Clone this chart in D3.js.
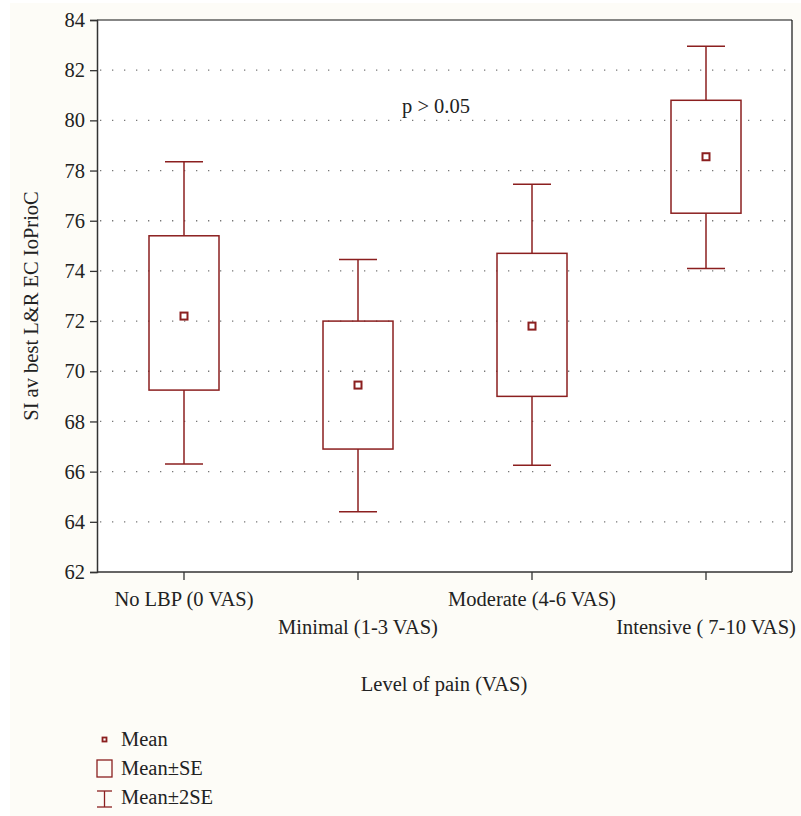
<!DOCTYPE html>
<html><head><meta charset="utf-8">
<script src="https://cdn.jsdelivr.net/npm/d3@7"></script>
<style>body{margin:0;background:#fff}</style>
</head><body>
<script>
const categories = ["No LBP (0 VAS)", "Minimal (1-3 VAS)", "Moderate (4-6 VAS)", "Intensive ( 7-10 VAS)"];
const means  = [72.2, 69.45, 71.8, 78.55];
const seLow  = [69.25, 66.9, 69.0, 76.3];
const seHigh = [75.4, 72.0, 74.7, 80.8];
const se2Low = [66.3, 64.4, 66.25, 74.1];
const se2High= [78.35, 74.45, 77.45, 82.95];
const yTicks = [62,64,66,68,70,72,74,76,78,80,82,84];

const W=801,H=816;
const L=97,R=792,T=20,B=572;
const col="#8b1f1f";
const fs=20.5;
const font="'Liberation Serif', 'DejaVu Serif', serif";
const svg=d3.select("body").append("svg").attr("width",W).attr("height",H);
svg.append("rect").attr("x",10).attr("y",3).attr("width",W-10).attr("height",H-3).attr("fill","#fdfcf7");
svg.append("rect").attr("x",L).attr("y",T).attr("width",R-L).attr("height",B-T).attr("fill","#fff");

const x=d3.scaleBand().domain(categories).range([L,L+4*174]);
const y=d3.scaleLinear().domain([62,84]).range([B,T]);

// grid
svg.append("g").selectAll("line").data(yTicks.filter(d=>d>62&&d<84)).join("line")
 .attr("x1",L+3).attr("x2",R).attr("y1",d=>y(d)).attr("y2",d=>y(d))
 .attr("stroke","#777").attr("stroke-width",1.3).attr("stroke-dasharray","1.3,10.7");

// frame
svg.append("line").attr("x1",L).attr("x2",R).attr("y1",T).attr("y2",T).attr("stroke","#111").attr("stroke-width",1.2);
svg.append("line").attr("x1",R).attr("x2",R).attr("y1",T).attr("y2",B).attr("stroke","#111").attr("stroke-width",1.2);

const ya=svg.append("g").attr("transform",`translate(${L},0)`).call(d3.axisLeft(y).tickValues(yTicks).tickSize(7).tickPadding(5).tickFormat(d3.format("d")));
ya.select(".domain").attr("stroke","#333").attr("stroke-width",1.5);
ya.selectAll("line").attr("stroke","#333").attr("stroke-width",1.3);
ya.selectAll("text").attr("font-family",font).attr("font-size",fs).attr("fill","#222");

const xa=svg.append("g").attr("transform",`translate(0,${B})`).call(d3.axisBottom(x).tickSize(8).tickFormat(""));
xa.select(".domain").attr("stroke","#333").attr("stroke-width",1.5).attr("d",`M${L},0H${R}`);
xa.selectAll("line").attr("stroke","#333").attr("stroke-width",1.3);

const cx=d=>x(d)+x.bandwidth()/2;
svg.append("g").selectAll("text").data(categories).join("text")
 .attr("x",d=>cx(d)).attr("y",(d,i)=>i%2===0?606:634)
 .attr("text-anchor","middle").attr("font-family",font).attr("font-size",fs).attr("fill","#222").text(d=>d);

const g=svg.append("g");
categories.forEach((c,i)=>{
  const xc=cx(c);
  g.append("line").attr("x1",xc).attr("x2",xc).attr("y1",y(seHigh[i])).attr("y2",y(se2High[i])).attr("stroke",col).attr("stroke-width",1.5);
  g.append("line").attr("x1",xc).attr("x2",xc).attr("y1",y(seLow[i])).attr("y2",y(se2Low[i])).attr("stroke",col).attr("stroke-width",1.5);
  g.append("line").attr("x1",xc-19).attr("x2",xc+19).attr("y1",y(se2High[i])).attr("y2",y(se2High[i])).attr("stroke",col).attr("stroke-width",1.5);
  g.append("line").attr("x1",xc-19).attr("x2",xc+19).attr("y1",y(se2Low[i])).attr("y2",y(se2Low[i])).attr("stroke",col).attr("stroke-width",1.5);
  g.append("rect").attr("x",xc-35).attr("width",70).attr("y",y(seHigh[i])).attr("height",y(seLow[i])-y(seHigh[i])).attr("fill","none").attr("stroke",col).attr("stroke-width",1.5);
  g.append("rect").attr("x",xc-3.5).attr("y",y(means[i])-3.5).attr("width",7).attr("height",7).attr("fill","#fff").attr("stroke",col).attr("stroke-width",2);
});

svg.append("text").attr("x",436).attr("y",113).attr("text-anchor","middle").attr("font-family",font).attr("font-size",fs).attr("fill","#222").text("p > 0.05");

svg.append("text").attr("transform","translate(38,306) rotate(-90)").attr("text-anchor","middle").attr("font-family",font).attr("font-size",fs).attr("fill","#222").text("SI av best L&R EC IoPrioC");
svg.append("text").attr("x",444).attr("y",691).attr("text-anchor","middle").attr("font-family",font).attr("font-size",fs).attr("fill","#222").text("Level of pain (VAS)");

// legend
const lg=svg.append("g");
lg.append("rect").attr("x",102.5).attr("y",737.5).attr("width",4).attr("height",4).attr("fill","#fff").attr("stroke",col).attr("stroke-width",1.8);
lg.append("rect").attr("x",97).attr("y",760).attr("width",15).attr("height",17).attr("fill","none").attr("stroke",col).attr("stroke-width",1.3);
lg.append("line").attr("x1",104.5).attr("x2",104.5).attr("y1",791).attr("y2",807).attr("stroke",col).attr("stroke-width",1.3);
lg.append("line").attr("x1",97).attr("x2",112).attr("y1",791).attr("y2",791).attr("stroke",col).attr("stroke-width",1.3);
lg.append("line").attr("x1",97).attr("x2",112).attr("y1",807).attr("y2",807).attr("stroke",col).attr("stroke-width",1.3);
const lt=["Mean","Mean±SE","Mean±2SE"];
lg.selectAll("text.l").data(lt).join("text").attr("x",121).attr("y",(d,i)=>746+i*29)
 .attr("font-family",font).attr("font-size",fs).attr("fill","#222").text(d=>d);
</script>
</body></html>
